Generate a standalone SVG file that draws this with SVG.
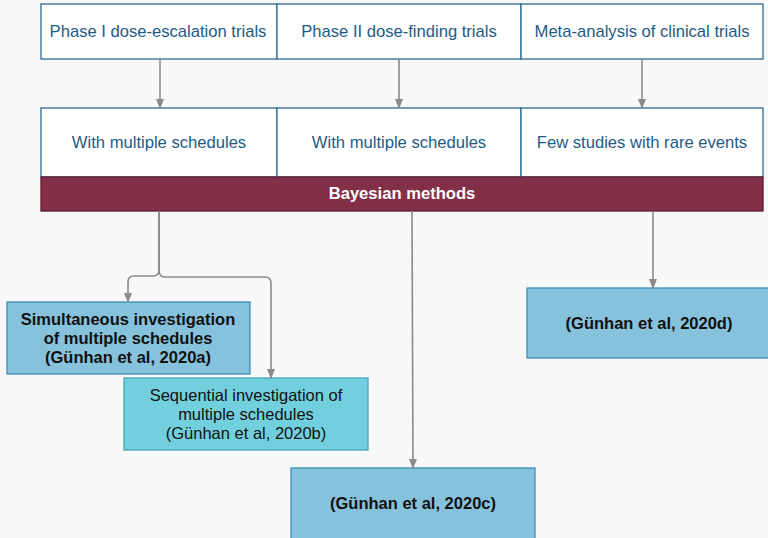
<svg xmlns="http://www.w3.org/2000/svg" width="768" height="538" viewBox="0 0 768 538">
  <style>
    .cell { fill: #ffffff; stroke: #2e6a93; stroke-width: 1.3; }
    .cell-text { font-family: "Liberation Sans", Arial, sans-serif; font-size: 16.6px; fill: #1d5b86; text-anchor: middle; dominant-baseline: central; }
    .band { fill: #832f48; stroke: #5a1a2c; stroke-width: 1.3; }
    .band-text { font-family: "Liberation Sans", Arial, sans-serif; font-size: 16.6px; font-weight: bold; fill: #ffffff; text-anchor: middle; dominant-baseline: central; }
    .ref { fill: #86c2dc; stroke: #3a90b8; stroke-width: 1.3; }
    .ref-alt { fill: #72cfdd; stroke: #4aa3bd; stroke-width: 1.3; }
    .ref-text { font-family: "Liberation Sans", Arial, sans-serif; font-size: 16.5px; fill: #111111; text-anchor: middle; dominant-baseline: central; }
    .bold { font-weight: bold; }
    .link { fill: none; stroke: #8a8a8a; stroke-width: 1.6; marker-end: url(#tip); }
  </style>
  <defs>
    <marker id="tip" viewBox="0 0 10 8" refX="9" refY="4" markerWidth="10" markerHeight="8" markerUnits="userSpaceOnUse" orient="auto">
      <path d="M0,0 L10,4 L0,8 Z" fill="#8a8a8a"/>
    </marker>
  </defs>

  <rect width="768" height="538" fill="#f8f8f8"/>

  <!-- top row: study types -->
  <g id="phase1">
    <rect class="cell" x="41" y="4" width="236" height="55"/>
    <text class="cell-text" x="158" y="31.5">Phase I dose-escalation trials</text>
  </g>
  <g id="phase2">
    <rect class="cell" x="277" y="4" width="244" height="55"/>
    <text class="cell-text" x="399" y="31.5">Phase II dose-finding trials</text>
  </g>
  <g id="meta">
    <rect class="cell" x="521" y="4" width="242" height="55"/>
    <text class="cell-text" x="642" y="31.5">Meta-analysis of clinical trials</text>
  </g>

  <!-- second row: settings -->
  <g id="schedules1">
    <rect class="cell" x="41" y="108" width="236" height="69"/>
    <text class="cell-text" x="159" y="142.5">With multiple schedules</text>
  </g>
  <g id="schedules2">
    <rect class="cell" x="277" y="108" width="244" height="69"/>
    <text class="cell-text" x="399" y="142.5">With multiple schedules</text>
  </g>
  <g id="rare">
    <rect class="cell" x="521" y="108" width="242" height="69"/>
    <text class="cell-text" x="642" y="142.5">Few studies with rare events</text>
  </g>

  <!-- method band -->
  <g id="bayesian">
    <rect class="band" x="41" y="177" width="722" height="34"/>
    <text class="band-text" x="402" y="193.5">Bayesian methods</text>
  </g>

  <!-- publications -->
  <g id="pub-a">
    <rect class="ref" x="7" y="302" width="243" height="72"/>
    <text class="ref-text bold" x="128" y="319">Simultaneous investigation</text>
    <text class="ref-text bold" x="128" y="338">of multiple schedules</text>
    <text class="ref-text bold" x="128" y="357">(Günhan et al, 2020a)</text>
  </g>
  <g id="pub-b">
    <rect class="ref-alt" x="124" y="378" width="244" height="72"/>
    <text class="ref-text" x="246" y="395">Sequential investigation of</text>
    <text class="ref-text" x="246" y="414">multiple schedules</text>
    <text class="ref-text" x="246" y="433">(Günhan et al, 2020b)</text>
  </g>
  <g id="pub-c">
    <rect class="ref" x="291" y="468" width="244" height="75"/>
    <text class="ref-text bold" x="413" y="503">(Günhan et al, 2020c)</text>
  </g>
  <g id="pub-d">
    <rect class="ref" x="527" y="288" width="250" height="70"/>
    <text class="ref-text bold" x="649" y="323">(Günhan et al, 2020d)</text>
  </g>

  <!-- connectors -->
  <g id="connectors">
    <path class="link" d="M160,59 V108"/>
    <path class="link" d="M399,59 V108"/>
    <path class="link" d="M642,59 V108"/>
    <path class="link" d="M159,211 V270 Q159,276 153,276 H134 Q128,276 128,282 V302"/>
    <path class="link" d="M159,211 V270 Q159,277 165,277 H265 Q271,277 271,283 V378"/>
    <path class="link" d="M412,211 L413,468"/>
    <path class="link" d="M653,211 V288"/>
  </g>
</svg>
